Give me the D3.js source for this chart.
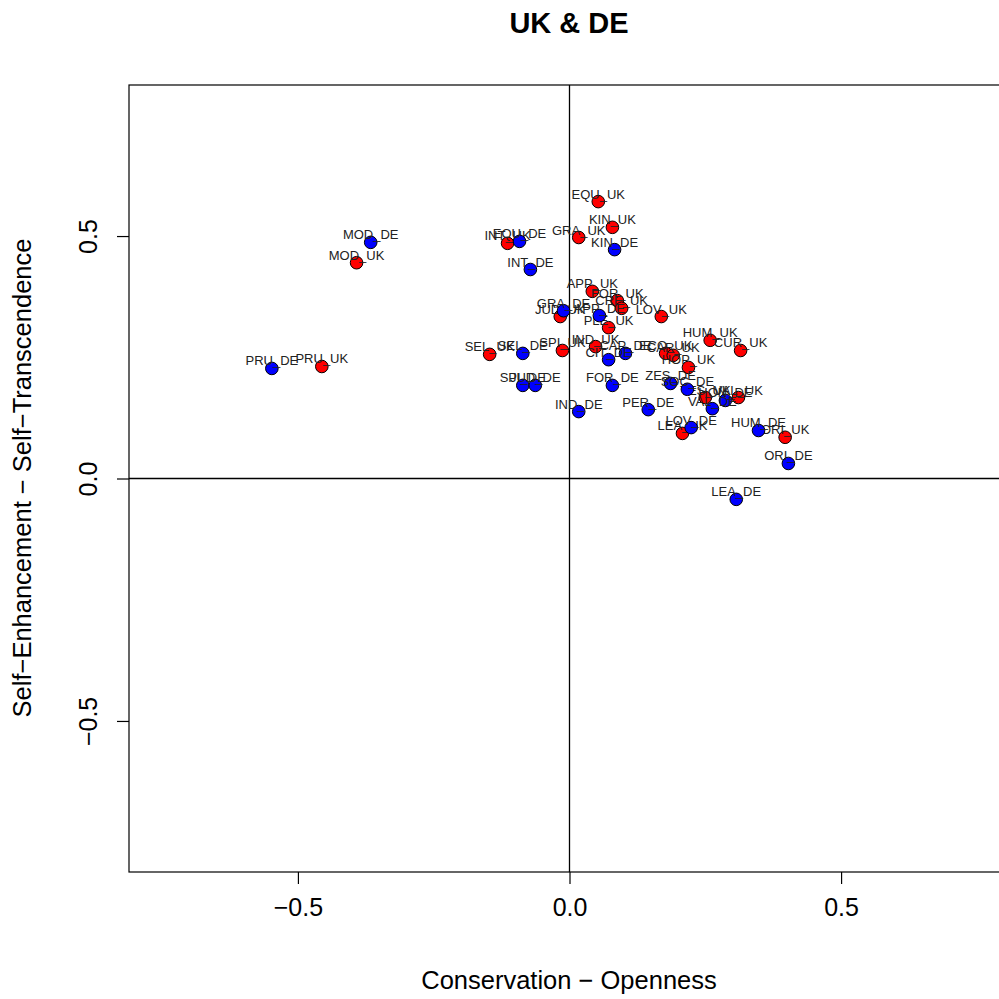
<!DOCTYPE html>
<html><head><meta charset="utf-8">
<script src="https://cdn.jsdelivr.net/npm/d3@7"></script>
<style>body{margin:0;background:#fff}svg{display:block}</style>
</head><body>
<script>
const ukLabels = ["MOD_UK","PRU_UK","EQU_UK","KIN_UK","GRA_UK","INT_UK","APP_UK","FOR_UK","CRE_UK","PLE_UK","LOV_UK","JUD_UK","SEL_UK","SPI_UK","IND_UK","ECO_UK","CAR_UK","HUM_UK","CUR_UK","HOP_UK","TES_UK","VAL_UK","LEA_UK","ORI_UK"];
const ukX = [-0.392,-0.456,0.053,0.079,0.017,-0.114,0.042,0.088,0.096,0.072,0.169,-0.017,-0.147,-0.013,0.048,0.177,0.191,0.259,0.315,0.219,0.250,0.311,0.208,0.397];
const ukY = [0.445,0.231,0.571,0.518,0.497,0.485,0.386,0.367,0.351,0.311,0.334,0.334,0.256,0.264,0.272,0.258,0.254,0.285,0.264,0.229,0.167,0.167,0.093,0.085];

const deLabels = ["MOD_DE","PRU_DE","KIN_DE","EQU_DE","INT_DE","APP_DE","GRA_DE","SEL_DE","CIT_DE","CAP_DE","SPI_DE","JUD_DE","FOR_DE","ZES_DE","SOC_DE","HON_DE","VAL_DE","IND_DE","PER_DE","LOV_DE","HUM_DE","ORI_DE","LEA_DE"];
const deX = [-0.366,-0.548,0.083,-0.092,-0.072,0.055,-0.011,-0.086,0.072,0.103,-0.086,-0.063,0.079,0.186,0.217,0.287,0.263,0.017,0.145,0.224,0.348,0.403,0.307];
const deY = [0.487,0.227,0.472,0.489,0.431,0.336,0.346,0.258,0.245,0.258,0.192,0.192,0.192,0.196,0.184,0.161,0.144,0.138,0.142,0.105,0.099,0.031,-0.043];

const xTicks = [-0.5, 0.0, 0.5];
const yTicks = [-0.5, 0.0, 0.5];

const W = 999, H = 999;
const L = 129, R = 1010, T = 85, B = 872;
const font = "'Liberation Sans', Arial, sans-serif";
const fmt = d => d3.format(".1f")(d).replace("-", "\u2212").replace("\u2212", "\u2212");

const svg = d3.select("body").append("svg").attr("width", W).attr("height", H)
  .style("font-family", font);

const x = d3.scaleLinear().domain([-0.811, 0.811]).range([L, R]);
const y = d3.scaleLinear().domain([-0.8115, 0.8115]).range([B, T]);

// title
svg.append("text").attr("x", 569).attr("y", 33).attr("text-anchor", "middle")
  .attr("font-size", 29).attr("font-weight", "bold").text("UK & DE");

// frame
svg.append("rect").attr("x", L).attr("y", T).attr("width", R - L).attr("height", B - T)
  .attr("fill", "none").attr("stroke", "#000").attr("stroke-width", 1.2);

// zero lines
svg.append("line").attr("x1", x(0)).attr("x2", x(0)).attr("y1", T).attr("y2", B)
  .attr("stroke", "#000").attr("stroke-width", 1.3);
svg.append("line").attr("x1", L).attr("x2", R).attr("y1", y(0)).attr("y2", y(0))
  .attr("stroke", "#000").attr("stroke-width", 1.3);

// axes
const xAxis = d3.axisBottom(x).tickValues(xTicks).tickFormat(fmt).tickSize(12).tickPadding(14);
const gx = svg.append("g").attr("transform", `translate(0,${B})`).call(xAxis);
gx.select(".domain").remove();
gx.selectAll("text").attr("font-size", 25).attr("font-family", font).attr("fill", "#000");
gx.selectAll("line").attr("stroke-width", 1.2);

const yAxis = d3.axisLeft(y).tickValues(yTicks).tickFormat(fmt).tickSize(12).tickPadding(10);
const gy = svg.append("g").attr("transform", `translate(${L},0)`).call(yAxis);
gy.select(".domain").remove();
gy.selectAll("line").attr("stroke-width", 1.2);
gy.selectAll("text").attr("font-size", 25).attr("font-family", font).attr("fill", "#000")
  .attr("text-anchor", "middle").attr("dy", 0).attr("x", 0)
  .attr("transform", "translate(-32,0) rotate(-90)");

// axis titles
svg.append("text").attr("x", 569).attr("y", 989).attr("text-anchor", "middle")
  .attr("font-size", 25.5).text("Conservation \u2212 Openness");
svg.append("text").attr("transform", "translate(31,478) rotate(-90)").attr("text-anchor", "middle")
  .attr("font-size", 25.5).text("Self\u2212Enhancement \u2212 Self\u2212Transcendence");

const plot = svg.append("g");
function drawGroup(labels, xs, ys, col) {
  const data = labels.map((l, i) => ({l, x: xs[i], y: ys[i]}));
  plot.append("g").selectAll("circle").data(data).join("circle")
    .attr("cx", d => x(d.x)).attr("cy", d => y(d.y)).attr("r", 6.3)
    .attr("fill", col).attr("stroke", "#000").attr("stroke-width", 1);
  plot.append("g").selectAll("text").data(data).join("text")
    .attr("x", d => x(d.x)).attr("y", d => y(d.y) - 3).attr("text-anchor", "middle")
    .attr("font-size", 13).attr("fill", "#222").text(d => d.l);
}
drawGroup(ukLabels, ukX, ukY, "#ff0000");
drawGroup(deLabels, deX, deY, "#0000ff");
</script>
</body></html>
